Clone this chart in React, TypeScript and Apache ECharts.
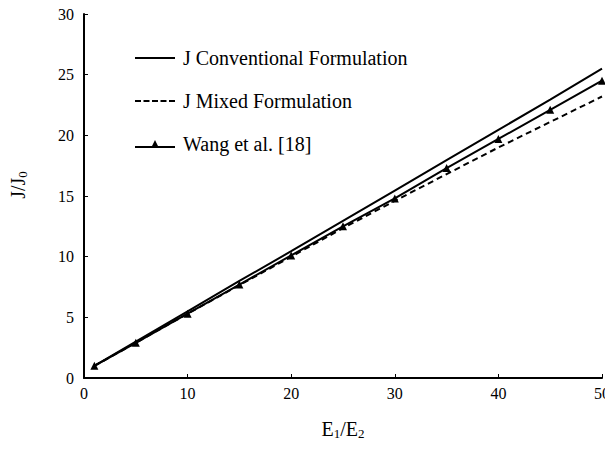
import React, { useEffect, useRef } from "react";
import * as echarts from "echarts";

const ratios = [1, 5, 10, 15, 20, 25, 30, 35, 40, 45, 50];
const conventional = [1, 3.0, 5.5, 8.0, 10.45, 12.95, 15.45, 17.95, 20.45, 22.95, 25.5];
const mixed = [1, 2.9, 5.3, 7.65, 10.0, 12.35, 14.6, 16.8, 19.0, 21.1, 23.2];
const wang = [1, 2.9, 5.3, 7.7, 10.1, 12.5, 14.8, 17.3, 19.7, 22.1, 24.5];
const seriesNames = ["J Conventional Formulation", "J Mixed Formulation", "Wang et al. [18]"];

const FONT = "Liberation Serif";

const solidIcon = "path://M0,0 L40,0 L40,2 L0,2 Z";
const dashedIcon =
  "path://M0,0 L6,0 L6,2 L0,2 Z M8.5,0 L14.5,0 L14.5,2 L8.5,2 Z M17,0 L23,0 L23,2 L17,2 Z M25.5,0 L31.5,0 L31.5,2 L25.5,2 Z M34,0 L40,0 L40,2 L34,2 Z";
const triangleIcon = "path://M0,6 L40,6 L40,8 L0,8 Z M16.5,7 L20,0 L23.5,7 Z";

export default function App() {
  const ref = useRef<HTMLDivElement>(null);
  useEffect(() => {
    if (!ref.current) return;
    const chart = echarts.init(ref.current, undefined, { renderer: "svg" });
    const pairs = (ys: number[]) => ratios.map((x, i) => [x, ys[i]]);
    chart.setOption({
      animation: false,
      backgroundColor: "#fff",
      textStyle: { fontFamily: FONT, color: "#000" },
      grid: { left: 82, right: 8, top: 14, bottom: 76, containLabel: false },
      legend: {
        orient: "vertical",
        left: 135,
        top: 48,
        padding: 0,
        itemWidth: 40,
        itemHeight: 14,
        itemGap: 23,
        data: [
          { name: seriesNames[0], icon: solidIcon },
          { name: seriesNames[1], icon: dashedIcon },
          { name: seriesNames[2], icon: triangleIcon },
        ],
        textStyle: { fontFamily: FONT, fontSize: 20, color: "#000", padding: [0, 0, 0, 3] },
      },
      xAxis: {
        type: "value",
        min: 0,
        max: 50,
        interval: 10,
        name: "{n|E}{s|1}{n|/E}{s|2}",
        nameLocation: "middle",
        nameGap: 40,
        nameTextStyle: {
          rich: {
            n: { fontFamily: FONT, fontSize: 20, color: "#000" },
            s: { fontFamily: FONT, fontSize: 13, color: "#000", padding: [9, 0, 0, 0] },
          },
        },
        axisLine: { show: true, lineStyle: { color: "#000", width: 2 } },
        axisTick: { show: true, inside: true, length: 4, lineStyle: { color: "#000", width: 1 } },
        axisLabel: { fontFamily: FONT, fontSize: 16, color: "#000", margin: 7 },
        splitLine: { show: false },
      },
      yAxis: {
        type: "value",
        min: 0,
        max: 30,
        interval: 5,
        name: "{n|J/J}{s|0}",
        nameLocation: "middle",
        nameRotate: 90,
        nameGap: 55,
        nameTextStyle: {
          padding: [0, 0, 0, 22],
          rich: {
            n: { fontFamily: FONT, fontSize: 20, color: "#000" },
            s: { fontFamily: FONT, fontSize: 13, color: "#000", padding: [9, 0, 0, 0] },
          },
        },
        axisLine: { show: true, lineStyle: { color: "#000", width: 2 } },
        axisTick: { show: true, inside: true, length: 4, lineStyle: { color: "#000", width: 1 } },
        axisLabel: { fontFamily: FONT, fontSize: 16, color: "#000", margin: 10 },
        splitLine: { show: false },
      },
      series: [
        {
          name: seriesNames[0],
          type: "line",
          data: pairs(conventional),
          symbol: "none",
          lineStyle: { color: "#000", width: 2 },
          itemStyle: { color: "#000" },
        },
        {
          name: seriesNames[1],
          type: "line",
          data: pairs(mixed),
          symbol: "none",
          lineStyle: { color: "#000", width: 2, type: [6, 4] },
          itemStyle: { color: "#000" },
        },
        {
          name: seriesNames[2],
          type: "line",
          data: pairs(wang),
          symbol: "triangle",
          symbolSize: 8,
          lineStyle: { color: "#000", width: 2 },
          itemStyle: { color: "#000" },
        },
      ],
    });
    return () => chart.dispose();
  }, []);
  return <div ref={ref} style={{ width: 613, height: 454, margin: -8 }} />;
}
